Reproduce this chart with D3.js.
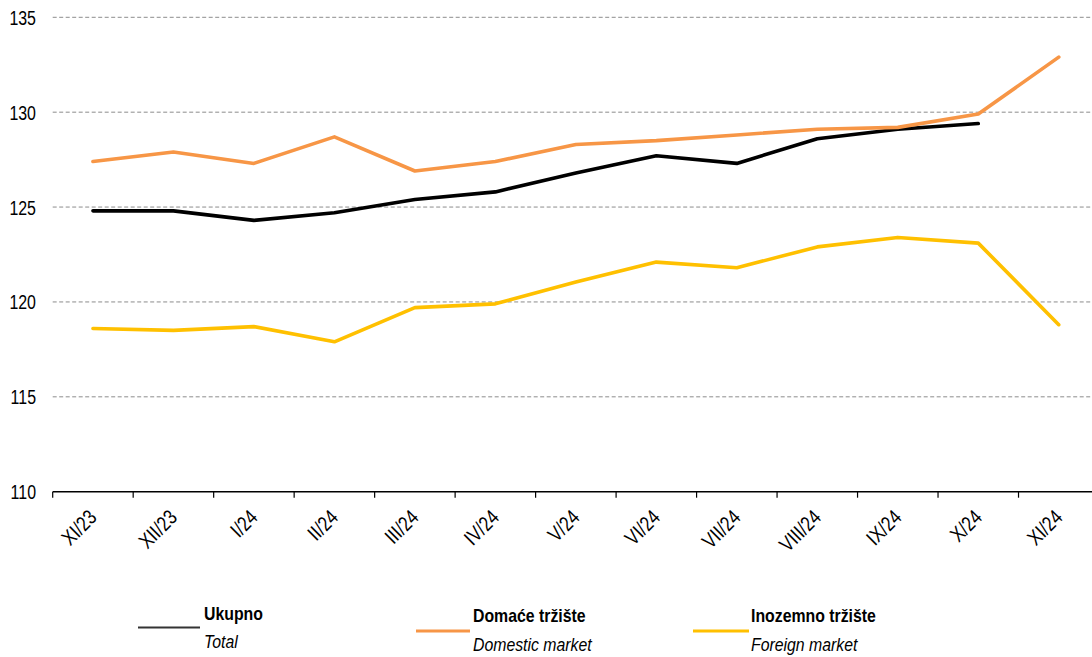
<!DOCTYPE html>
<html>
<head>
<meta charset="utf-8">
<script src="https://cdn.jsdelivr.net/npm/d3@7"></script>
<style>
  body { margin: 0; background: #fff; }
  svg text { font-family: "Liberation Sans", Arial, sans-serif; }
</style>
</head>
<body>
<script>
// Data
const months = ["XI/23", "XII/23", "I/24", "II/24", "III/24", "IV/24", "V/24", "VI/24", "VII/24", "VIII/24", "IX/24", "X/24", "XI/24"];
const total    = [124.8, 124.8, 124.3, 124.7, 125.4, 125.8, 126.8, 127.7, 127.3, 128.6, 129.1, 129.4, null];
const domestic = [127.4, 127.9, 127.3, 128.7, 126.9, 127.4, 128.3, 128.5, 128.8, 129.1, 129.2, 129.9, 132.9];
const foreign  = [118.6, 118.5, 118.7, 117.9, 119.7, 119.9, 121.05, 122.1, 121.8, 122.9, 123.4, 123.1, 118.8];
const yTicks = [110, 115, 120, 125, 130, 135];

const width = 1092, height = 657;
const plot = { left: 52.7, right: 1099, top: 17.3, bottom: 491.7 };

const svg = d3.select("body").append("svg")
  .attr("width", width)
  .attr("height", height);

// Scales
const x = d3.scaleBand().domain(months).range([plot.left, plot.right]).padding(0);
const y = d3.scaleLinear().domain([110, 135]).range([plot.bottom, plot.top]);
const cx = d => x(d) + x.bandwidth() / 2;

// Gridlines
svg.append("g")
  .selectAll("line")
  .data(yTicks.filter(t => t > 110))
  .join("line")
  .attr("x1", plot.left)
  .attr("x2", width)
  .attr("y1", d => y(d))
  .attr("y2", d => y(d))
  .attr("stroke", "#8c8c8c")
  .attr("stroke-width", 1)
  .attr("stroke-dasharray", "4,2.5");

// Y labels (narrow look: squeeze horizontally)
svg.append("g")
  .selectAll("text")
  .data(yTicks)
  .join("text")
  .attr("transform", d => `translate(36,${y(d) + 7.5}) scale(0.76,1)`)
  .attr("text-anchor", "end")
  .attr("font-size", 21)
  .attr("fill", "#000")
  .text(d => d);

// X axis
const xAxis = d3.axisBottom(x).tickSize(0).tickFormat("");
const gx = svg.append("g").attr("transform", `translate(0,${plot.bottom})`).call(xAxis);
gx.select(".domain").remove();
gx.append("line")
  .attr("x1", plot.left).attr("x2", width)
  .attr("y1", 0).attr("y2", 0)
  .attr("stroke", "#000").attr("stroke-width", 1.5);
gx.selectAll(".band-tick")
  .data(months)
  .join("line")
  .attr("class", "band-tick")
  .attr("x1", d => x(d)).attr("x2", d => x(d))
  .attr("y1", 0).attr("y2", 6)
  .attr("stroke", "#000").attr("stroke-width", 1.2);

svg.append("g")
  .selectAll("text")
  .data(months)
  .join("text")
  .attr("transform", d => `translate(${cx(d) + 5},${plot.bottom + 27}) rotate(-45) scale(0.8,1)`)
  .attr("text-anchor", "end")
  .attr("font-size", 21)
  .attr("fill", "#000")
  .text(d => d);

// Lines
const line = d3.line()
  .defined(d => d.v != null)
  .x(d => cx(d.m))
  .y(d => y(d.v));

const series = [
  { name: "total", values: total, color: "#000000" },
  { name: "domestic", values: domestic, color: "#F79646" },
  { name: "foreign", values: foreign, color: "#FFC000" }
];

svg.append("g")
  .selectAll("path")
  .data(series)
  .join("path")
  .attr("d", s => line(months.map((m, i) => ({ m, v: s.values[i] }))))
  .attr("fill", "none")
  .attr("stroke", s => s.color)
  .attr("stroke-width", 3.6)
  .attr("stroke-linejoin", "round")
  .attr("stroke-linecap", "round");

// Legend
const legend = [
  { hr: "Ukupno", en: "Total", color: "#333333", lx: 138, lw: 62, ly: 627.5, tx: 204, ty1: 620, ty2: 648 },
  { hr: "Domaće tržište", en: "Domestic market", color: "#F79646", lx: 416, lw: 54, ly: 631, tx: 473, ty1: 622, ty2: 651 },
  { hr: "Inozemno tržište", en: "Foreign market", color: "#FFC000", lx: 693, lw: 56, ly: 631, tx: 751, ty1: 622, ty2: 651 }
];

const lg = svg.append("g").selectAll("g").data(legend).join("g");
lg.append("line")
  .attr("x1", d => d.lx).attr("x2", d => d.lx + d.lw)
  .attr("y1", d => d.ly).attr("y2", d => d.ly)
  .attr("stroke", d => d.color)
  .attr("stroke-width", d => d.hr === "Ukupno" ? 2 : 3);
lg.append("text")
  .attr("transform", d => `translate(${d.tx},${d.ty1}) scale(0.88,1)`)
  .attr("font-size", 18).attr("font-weight", "bold")
  .text(d => d.hr);
lg.append("text")
  .attr("transform", d => `translate(${d.tx},${d.ty2}) scale(0.88,1)`)
  .attr("font-size", 18).attr("font-style", "italic")
  .text(d => d.en);
</script>
</body>
</html>
